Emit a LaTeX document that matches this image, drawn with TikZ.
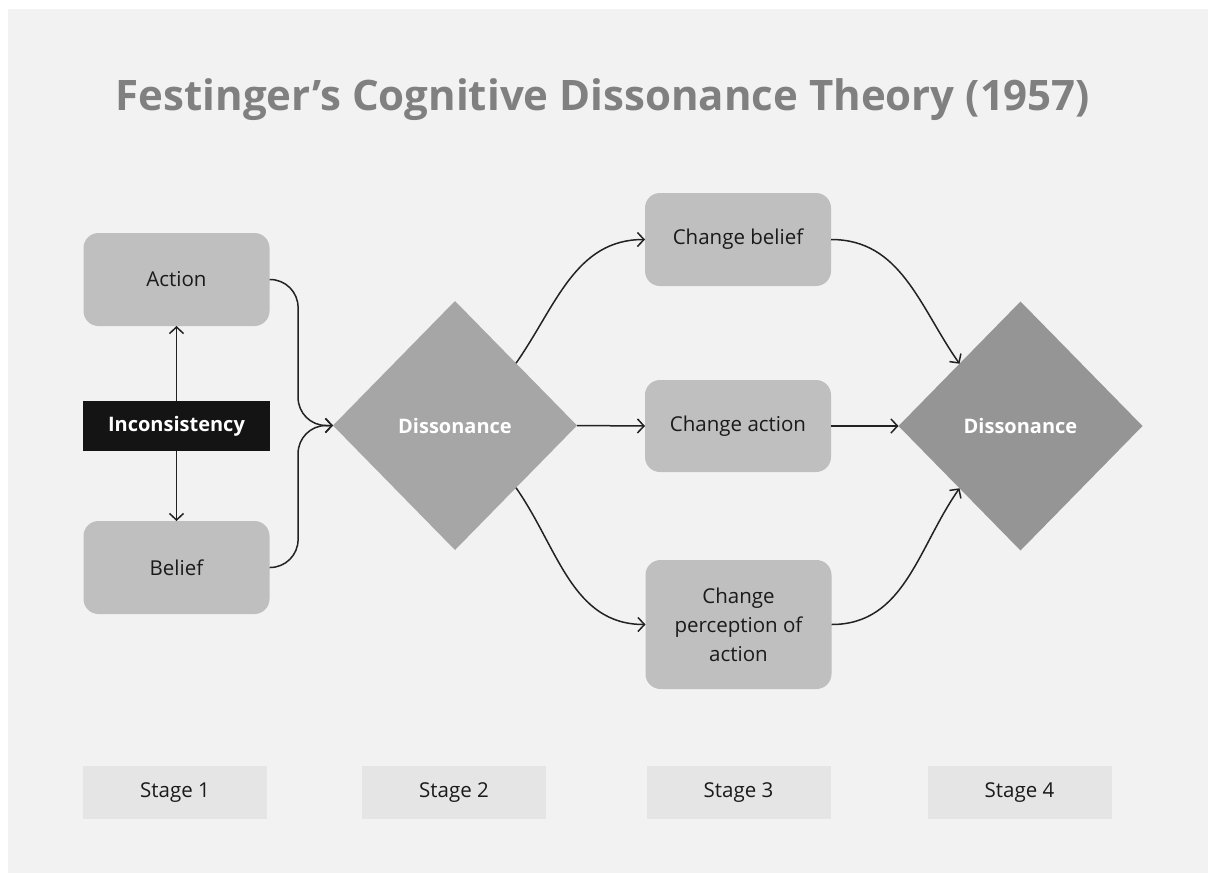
\documentclass[tikz,border=0pt]{standalone}
\usepackage{fontspec}
\setmainfont{Open Sans}
\usetikzlibrary{shapes.geometric,arrows.meta,calc}
\definecolor{bg}{HTML}{F2F2F2}
\definecolor{boxgray}{HTML}{BFBFBF}
\definecolor{dia1}{HTML}{A6A6A6}
\definecolor{dia2}{HTML}{959595}
\definecolor{stagegray}{HTML}{E5E5E5}
\definecolor{titlegray}{HTML}{808080}
\definecolor{txt}{HTML}{1A1A1A}
\definecolor{inkbox}{HTML}{141414}
\definecolor{lc}{HTML}{222222}
\begin{document}
\begin{tikzpicture}[x=1pt,y=-1pt,
  box/.style={fill=boxgray, rounded corners=15pt, minimum width=186pt, minimum height=93pt,
    inner sep=0pt, outer sep=0pt, align=center, text=txt, font=\fontsize{20.5}{29}\selectfont},
  incbox/.style={fill=inkbox, minimum width=187pt, minimum height=50pt, inner sep=0pt, outer sep=0pt,
    text=white, font=\fontsize{20}{24}\selectfont\bfseries},
  dia/.style={diamond, minimum width=244pt, minimum height=249pt, inner sep=0pt, outer sep=0pt,
    text=white, font=\fontsize{20}{24}\selectfont\bfseries},
  stagebox/.style={fill=stagegray, minimum width=184pt, minimum height=53pt, inner sep=0pt, outer sep=0pt,
    text=txt, font=\fontsize{20.5}{24}\selectfont},
  conn/.style={draw=lc, line width=1.5pt, -{Straight Barb[length=6.5pt,width=14pt]}},
]
\useasboundingbox (0,0) rectangle (1208,873);
\fill[white] (0,0) rectangle (1208,873);
\fill[bg] (8,9) rectangle (1208,873);

\node[text=titlegray, font=\fontsize{42}{50}\selectfont\bfseries] (title) at (603,100) {Festinger’s Cognitive Dissonance Theory (1957)};

\node[box] (act) at (176.5,279.5) {Action};
\node[box] (bel) at (176.5,567.5) {Belief};
\node[incbox] (inc) at (176.5,426) {Inconsistency};
\node[dia, fill=dia1] (d1) at (455,425.5) {Dissonance};
\node[box] (cb) at (738,239.5) {Change belief};
\node[box, minimum height=92pt] (ca) at (738,426) {Change action};
\node[box, minimum height=129pt] (cp) at (738.5,624.5) {Change\\perception of\\action};
\node[dia, fill=dia2] (d2) at (1020.5,426) {Dissonance};

\node[stagebox] (s1) at (175,792.5) {Stage 1};
\node[stagebox] (s2) at (454,792.5) {Stage 2};
\node[stagebox] (s3) at (738.5,792.5) {Stage 3};
\node[stagebox] (s4) at (1019.5,792.5) {Stage 4};

\draw[conn] (inc.north) -- (act.south);
\draw[conn] (inc.south) -- (bel.north);
\draw[conn, rounded corners=28pt] (act.east) -| ($(act.east)!0.45!(d1.west)$) |- (d1.west);
\draw[conn, rounded corners=28pt] (bel.east) -| ($(bel.east)!0.45!(d1.west)$) |- (d1.west);
\draw[conn] (d1.north east) to[out=55,in=180] (cb.west);
\draw[conn] (d1.east) -- (ca.west);
\draw[conn] (d1.south east) to[out=-55,in=180] (cp.west);
\draw[conn] (cb.east) to[out=0,in=125] (d2.north west);
\draw[conn] (ca.east) -- (d2.west);
\draw[conn] (cp.east) to[out=0,in=-125] (d2.south west);
\end{tikzpicture}
\end{document}
